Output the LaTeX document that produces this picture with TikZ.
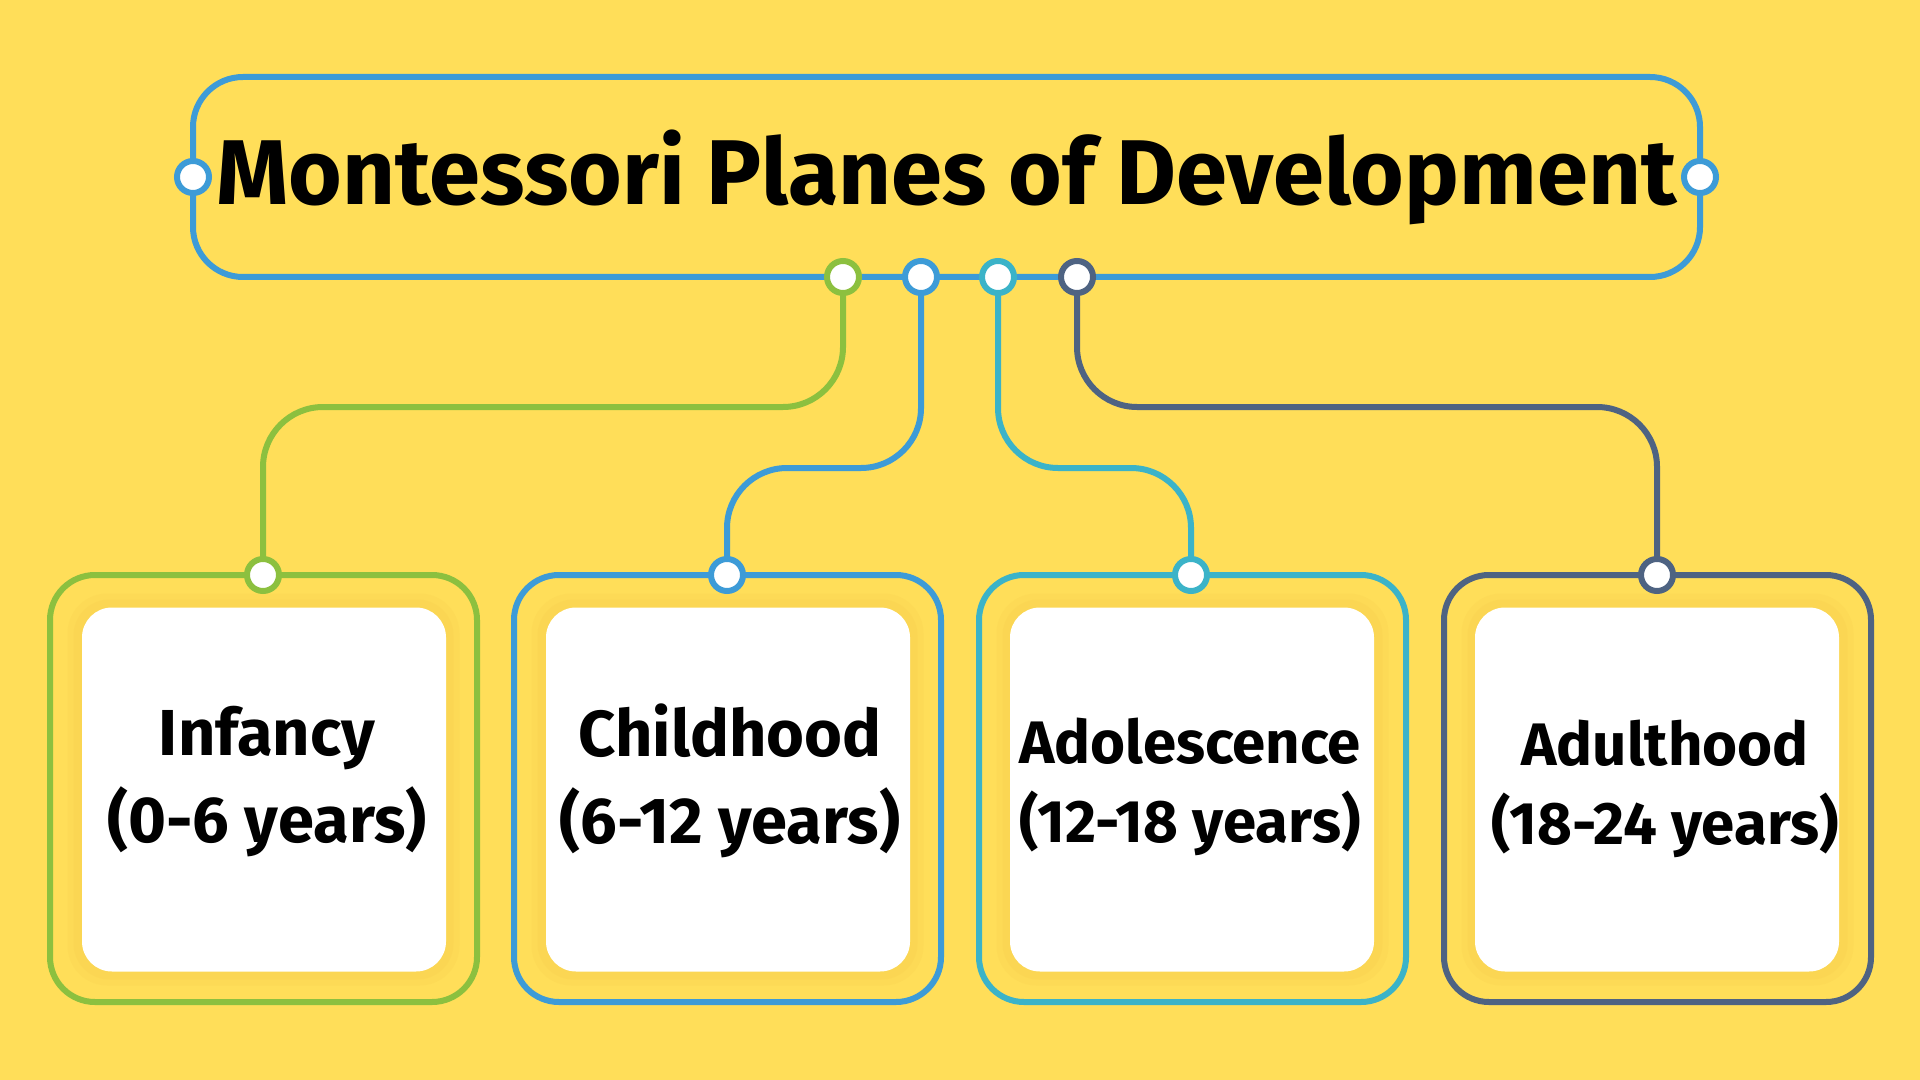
\documentclass[tikz,border=0pt]{standalone}
\usepackage{fontspec}
\setmainfont{Fira Sans}
\usetikzlibrary{calc}
\definecolor{bgc}{HTML}{FFDE59}
\definecolor{cgreen}{HTML}{8CC03F}
\definecolor{cblue}{HTML}{3D9BD7}
\definecolor{ccyan}{HTML}{3BB3C8}
\definecolor{cdark}{HTML}{4E6382}
\definecolor{glowc}{HTML}{F5C84A}
\pgfdeclarelayer{bglayer}
\pgfdeclarelayer{connlayer}
\pgfsetlayers{bglayer,connlayer,main}
\tikzset{
  titlebox/.style={draw=cblue, line width=3pt, rounded corners=25pt, minimum width=753.5pt, minimum height=100pt, inner sep=0pt, font=\bfseries\fontsize{46}{52}\selectfont},
  outerbox/.style={line width=3pt, rounded corners=22.5pt, minimum width=213.5pt, minimum height=213.5pt, inner sep=0pt},
  innerbox/.style={fill=white, rounded corners=15pt, minimum width=182pt, minimum height=182pt, inner sep=0pt},
  boxtext/.style={align=center, inner sep=0pt, font=\bfseries\fontsize{32.5}{43.5}\selectfont},
  boxtextsm/.style={align=center, inner sep=0pt, font=\bfseries\fontsize{30}{39.5}\selectfont},
  dot/.style={circle, line width=3pt, fill=white, minimum size=16pt, inner sep=0pt},
  conn/.style={line width=3pt, rounded corners=30pt},
}
\begin{document}
\begin{tikzpicture}[x=0.5pt,y=-0.5pt]
\begin{pgfonlayer}{bglayer}
\fill[bgc] (0,0) rectangle (1920,1080);
% soft glow around white boxes
\foreach \cx in {263.5,727.5,1192.5,1657.5}{
  \fill[glowc, opacity=0.18, rounded corners=20pt] (\cx-196,789.5-196) rectangle (\cx+196,789.5+196);
  \fill[glowc, opacity=0.18, rounded corners=18pt] (\cx-190,789.5-190) rectangle (\cx+190,789.5+190);
}
\end{pgfonlayer}
\useasboundingbox (0,0) rectangle (1920,1080);

% title
\node[titlebox] (title) at (946.5,177) {Montessori Planes of Development};
\node[dot, draw=cblue] (sl) at (193,177) {};
\node[dot, draw=cblue] (sr) at (1700,177) {};

% outer boxes
\node[outerbox, draw=cgreen] (o1) at (263.5,788.5) {};
\node[outerbox, draw=cblue]  (o2) at (727.5,788.5) {};
\node[outerbox, draw=ccyan]  (o3) at (1192.5,788.5) {};
\node[outerbox, draw=cdark]  (o4) at (1657.5,788.5) {};

% white boxes
\node[innerbox] (w1) at (264,789.5) {};
\node[innerbox] (w2) at (728,789.5) {};
\node[innerbox] (w3) at (1192,789.5) {};
\node[innerbox] (w4) at (1657,789.5) {};

% texts
\node[boxtext] (t1) at (267,782) {Infancy\\(0-6 years)};
\node[boxtext] (t2) at (730,781) {Childhood\\(6-12 years)};
\node[boxtextsm] (t3) at (1190,787) {Adolescence\\(12-18 years)};
\node[boxtextsm] (t4) at (1665,789) {Adulthood\\(18-24 years)};

% dots on title
\node[dot, draw=cgreen] (c1) at (843,277) {};
\node[dot, draw=cblue]  (c2) at (921,277) {};
\node[dot, draw=ccyan]  (c3) at (998,277) {};
\node[dot, draw=cdark]  (c4) at (1077,277) {};

% dots on boxes
\node[dot, draw=cgreen] (d1) at (263,575) {};
\node[dot, draw=cblue]  (d2) at (727,575) {};
\node[dot, draw=ccyan]  (d3) at (1191,575) {};
\node[dot, draw=cdark]  (d4) at (1657,575) {};

\begin{pgfonlayer}{connlayer}
\draw[conn, cgreen] (c1.center) -- (c1.center |- 0,407) -- (d1.center |- 0,407) -- (d1.center);
\draw[conn, cblue]  (c2.center) -- (c2.center |- 0,468) -- (d2.center |- 0,468) -- (d2.center);
\draw[conn, ccyan]  (c3.center) -- (c3.center |- 0,468) -- (d3.center |- 0,468) -- (d3.center);
\draw[conn, cdark]  (c4.center) -- (c4.center |- 0,407) -- (d4.center |- 0,407) -- (d4.center);
\end{pgfonlayer}
\end{tikzpicture}
\end{document}
